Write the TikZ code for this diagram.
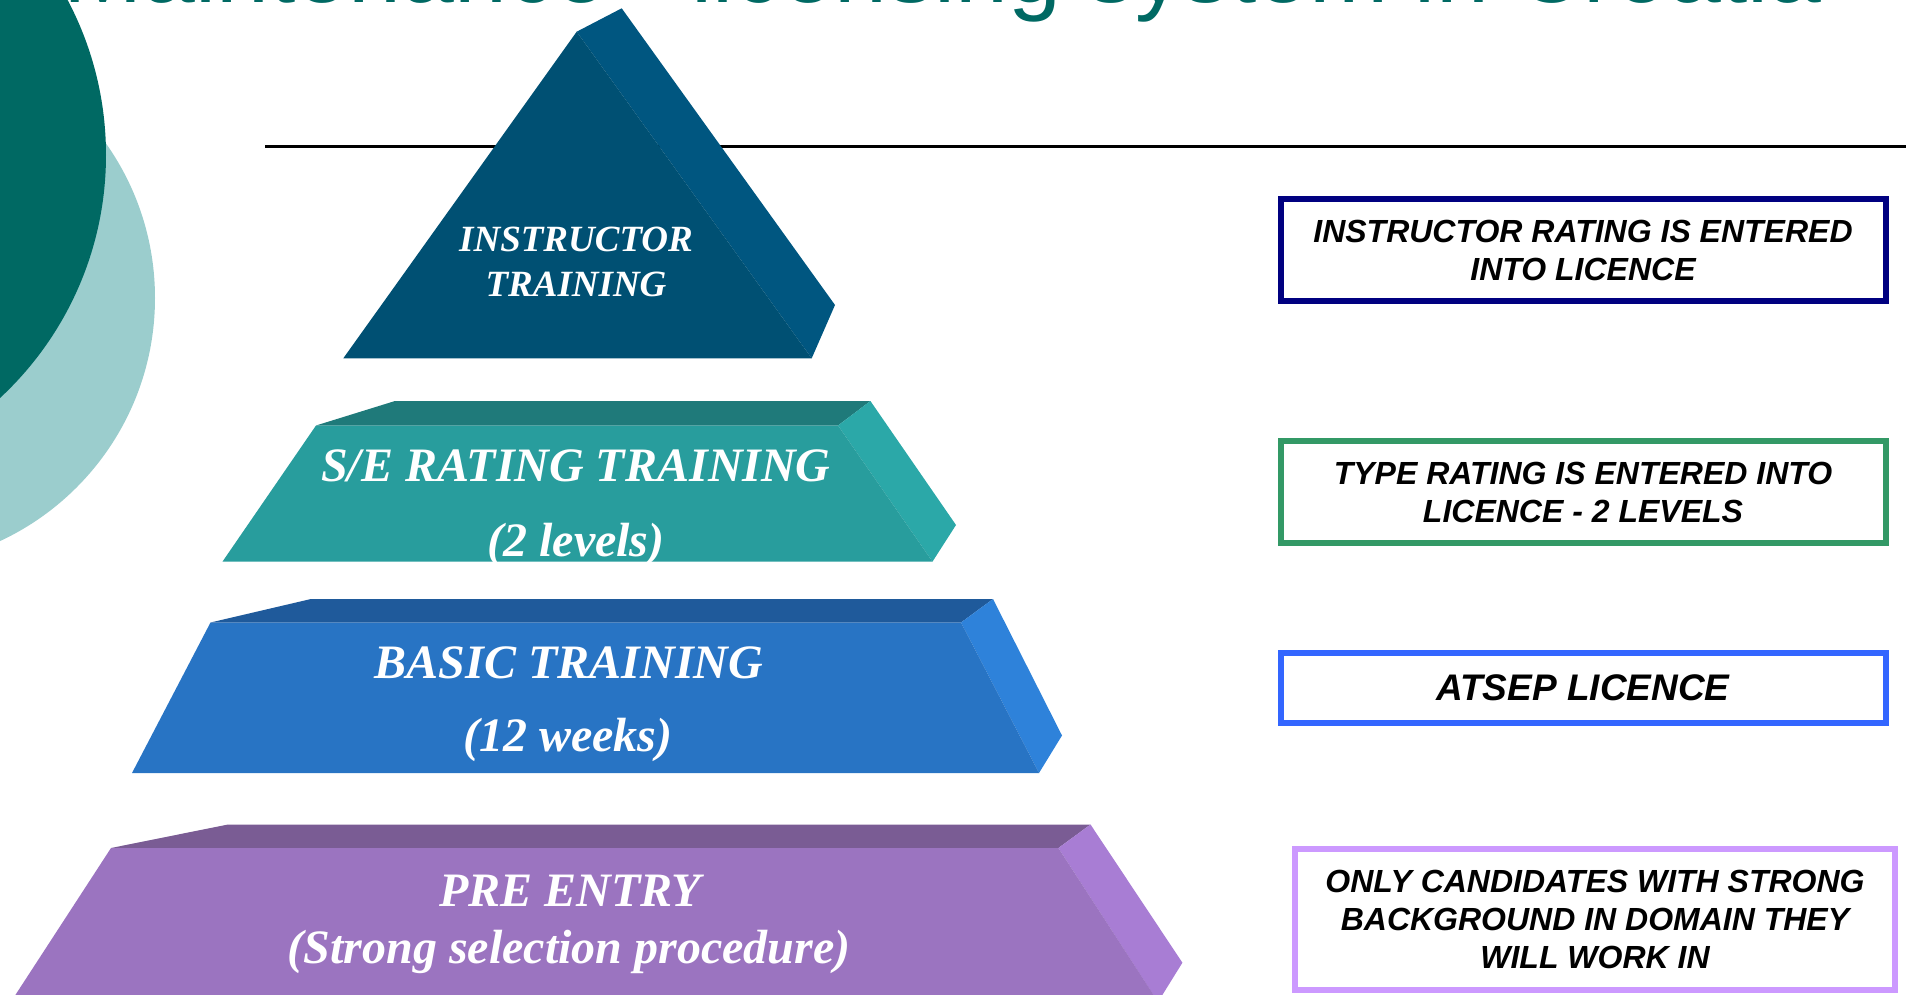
\documentclass[tikz,border=0pt]{standalone}
\usepackage{fontspec}
\usepackage{xcolor}
\usepackage{tikz}
\setmainfont{Liberation Serif}
\newfontfamily\boxfont{Liberation Sans}
\definecolor{circdark}{HTML}{006963}
\definecolor{circlight}{HTML}{9BCDCD}
\definecolor{instrfront}{HTML}{005073}
\definecolor{instrside}{HTML}{005680}
\definecolor{sefront}{HTML}{289D9D}
\definecolor{setop}{HTML}{1F7A7A}
\definecolor{seside}{HTML}{2BA8A8}
\definecolor{basicfront}{HTML}{2874C4}
\definecolor{basictop}{HTML}{1F5A9B}
\definecolor{basicside}{HTML}{2E82DA}
\definecolor{prefront}{HTML}{9B74C0}
\definecolor{pretop}{HTML}{7A5C94}
\definecolor{preside}{HTML}{A87DD4}
\definecolor{navybox}{HTML}{000080}
\definecolor{greenbox}{HTML}{339966}
\definecolor{bluebox}{HTML}{3366FF}
\definecolor{lilacbox}{HTML}{CC99FF}

\begin{document}
\begin{tikzpicture}[x=1pt,y=-1pt,
    tier/.style={text=white,anchor=base,inner sep=0pt,font=\bfseries\itshape\fontsize{48}{48}\selectfont},
    infobox/.style={rectangle,draw,line width=6pt,minimum width=605pt,inner sep=0pt,align=center,
      font=\boxfont\bfseries\itshape\fontsize{32}{38}\selectfont}]
  \useasboundingbox (0,0) rectangle (1906,995);
  \clip (0,0) rectangle (1906,995);
  \fill[circlight] (-113,298) circle (268);
  \node [anchor=base east,inner sep=0pt,text=circdark,font=\boxfont\fontsize{95}{95}\selectfont] (title) at (1822,3) {Maintenance - licensing system in Croatia};
  \fill[circdark] (-225.5,155) circle (331.5);
  \draw[line width=3pt] (265,146.7) -- (1906,146.7);
  % instructor
  \fill[instrside] (576.7,31.7) -- (621.7,8.3) -- (835,305) -- (811.7,358.3) -- cycle;
  \fill[instrfront] (576.7,31.7) -- (811.7,358.3) -- (343.3,358.3) -- cycle;
  \node [tier,font=\bfseries\itshape\fontsize{37}{37}\selectfont] (instr) at (576,251.3) {INSTRUCTOR};
  \node [tier,font=\bfseries\itshape\fontsize{37}{37}\selectfont] (instrtrn) at (576,296.3) {TRAINING};
  % s/e rating
  \fill[setop] (316,425.5) -- (395,401) -- (870.4,401) -- (838,425.5) -- cycle;
  \fill[seside] (838,425.5) -- (870.4,401) -- (956,525) -- (932.5,561.6) -- cycle;
  \fill[sefront] (316,425.5) -- (838,425.5) -- (932.5,561.6) -- (222.5,561.6) -- cycle;
  \node [tier] (serating) at (576,481.6) {S/E RATING TRAINING};
  \node [tier] (selevels) at (576,556) {(2 levels)};
  % basic
  \fill[basictop] (210.5,622.5) -- (311,599) -- (993,599) -- (961,622.5) -- cycle;
  \fill[basicside] (961,622.5) -- (993,599) -- (1062,735.5) -- (1039,773) -- cycle;
  \fill[basicfront] (210.5,622.5) -- (961,622.5) -- (1039,773) -- (132,773) -- cycle;
  \node [tier] (basic) at (569,678.5) {BASIC TRAINING};
  \node [tier] (basicweeks) at (568,751.5) {(12 weeks)};
  % pre entry
  \fill[pretop] (111,848) -- (228,824.5) -- (1090.5,824.5) -- (1058.4,848) -- cycle;
  \fill[preside] (1058.4,848) -- (1090.5,824.5) -- (1182.4,962.7) -- (1158,1002) -- cycle;
  \fill[prefront] (111,848) -- (1058.4,848) -- (1166,1014) -- (3,1014) -- cycle;
  \node [tier] (preentry) at (570,906) {PRE ENTRY};
  \node [tier] (preproc) at (569,963) {(Strong selection procedure)};
  % licence boxes
  \node [infobox,draw=navybox,minimum height=102pt] (instrbox) at (1583,250) {INSTRUCTOR RATING IS ENTERED\\INTO LICENCE};
  \node [infobox,draw=greenbox,minimum height=102pt] (typebox) at (1583,492) {TYPE RATING IS ENTERED INTO\\LICENCE - 2 LEVELS};
  \node [infobox,draw=bluebox,minimum height=69.5pt,font=\boxfont\bfseries\itshape\fontsize{37}{40}\selectfont] (licbox) at (1583,688) {ATSEP LICENCE};
  \node [infobox,draw=lilacbox,minimum width=599.5pt,minimum height=141pt] (candbox) at (1595,919.5) {ONLY CANDIDATES WITH STRONG\\BACKGROUND IN DOMAIN THEY\\WILL WORK IN};
\end{tikzpicture}
\end{document}
